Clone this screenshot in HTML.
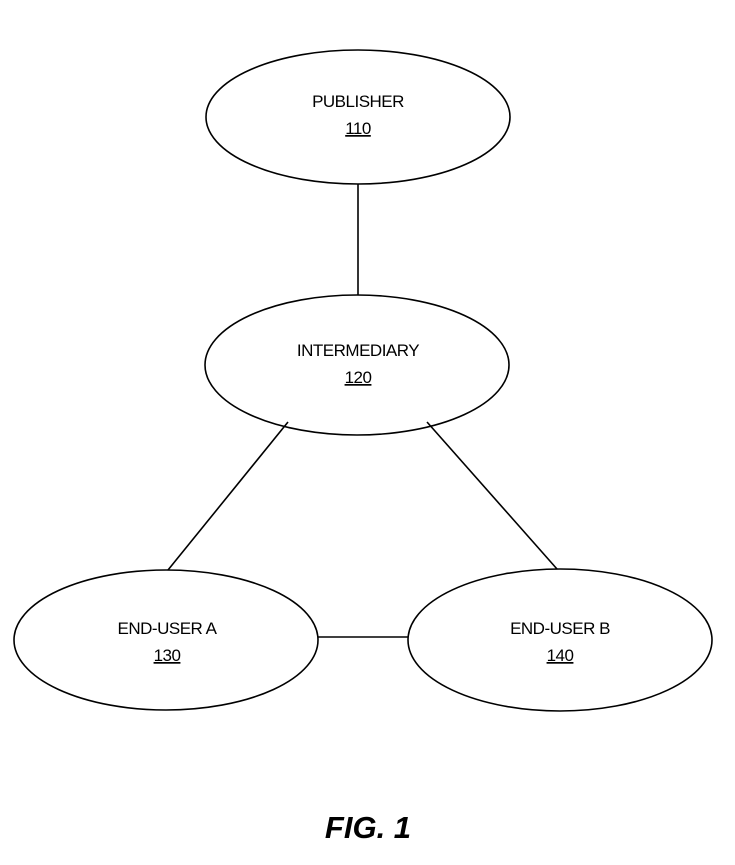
<!DOCTYPE html>
<html><head><meta charset="utf-8"><style>
html,body{margin:0;padding:0;background:#fff;}
svg{display:block;}
text{font-family:"Liberation Sans",Arial,sans-serif;fill:#000;}
</style></head><body>
<svg width="735" height="865" viewBox="0 0 735 865" xmlns="http://www.w3.org/2000/svg">
<g fill="none" stroke="#000" stroke-width="1.6">
<ellipse cx="358" cy="117" rx="152" ry="67"/>
<ellipse cx="357" cy="365" rx="152" ry="70"/>
<ellipse cx="166" cy="640" rx="152" ry="70"/>
<ellipse cx="560" cy="640" rx="152" ry="71"/>
<line x1="358" y1="184" x2="358" y2="295"/>
<line x1="288" y1="422" x2="168" y2="570"/>
<line x1="427" y1="422" x2="557" y2="569"/>
<line x1="318" y1="637" x2="408" y2="637"/>
</g>
<g font-size="17" text-anchor="middle" letter-spacing="-0.5">
<text x="358" y="107">PUBLISHER</text>
<text x="358" y="134" text-decoration="underline">110</text>
<text x="358" y="356">INTERMEDIARY</text>
<text x="358" y="383" text-decoration="underline">120</text>
<text x="167" y="634">END-USER A</text>
<text x="167" y="661" text-decoration="underline">130</text>
<text x="560" y="634">END-USER B</text>
<text x="560" y="661" text-decoration="underline">140</text>
</g>
<text x="368" y="838" font-size="31" font-weight="bold" font-style="italic" text-anchor="middle">FIG. 1</text>
</svg>
</body></html>
